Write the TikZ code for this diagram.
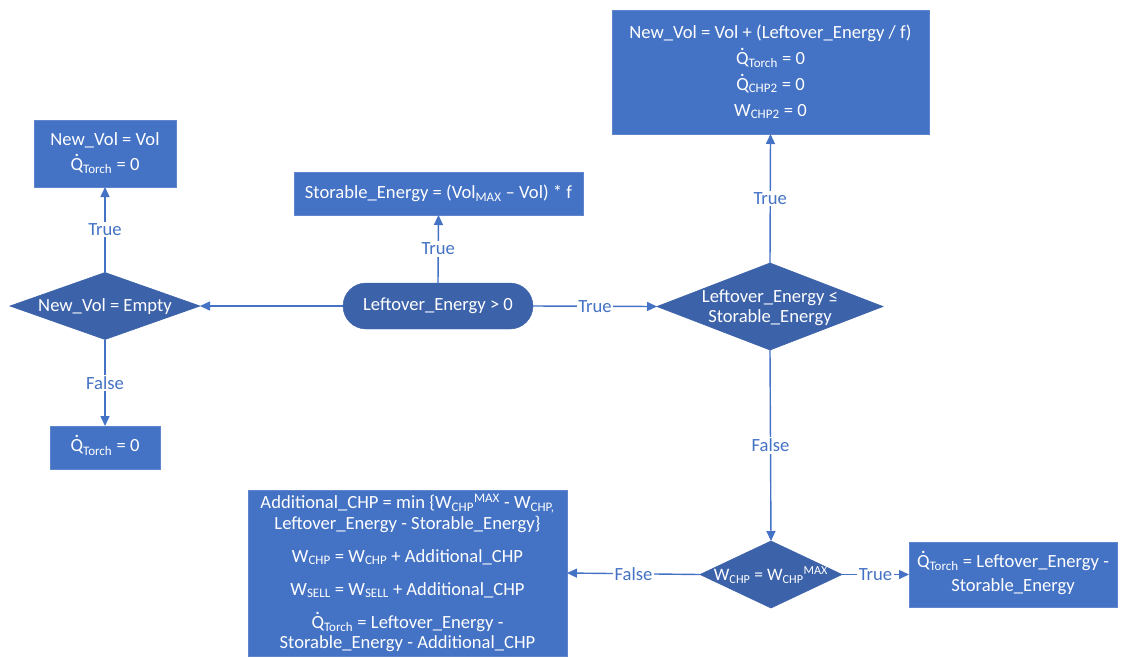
\documentclass[tikz,border=0pt]{standalone}
\usepackage{fontspec}
\setmainfont{Carlito}
\usetikzlibrary{shapes.geometric,arrows.meta}
\definecolor{boxblue}{HTML}{4472C4}
\definecolor{boxedge}{HTML}{5F86CC}
\definecolor{decblue}{HTML}{3C62AA}
\definecolor{edgeblue}{HTML}{4472C4}
% dotted Q (heat flow rate); the dot does not change the line height
\newcommand\Qd{\hbox{\ooalign{Q\cr\hidewidth\smash{\raisebox{0.76em}{\fontsize{20}{20}\selectfont.}}\hidewidth\cr}}}
\newcommand\sbs[1]{\textsubscript{#1}}
\newcommand\sps[1]{\textsuperscript{#1}}
% text set inside a diamond without enlarging it
\newcommand\dtext[1]{\smash{\makebox[0pt]{\raisebox{-0.32em}{#1}}}}
\begin{document}
\begin{tikzpicture}[x=1pt,y=-1pt,
  every node/.style={font=\fontsize{18.6}{25}\selectfont},
  box/.style={rectangle, fill=boxblue, draw=boxedge, line width=0.8pt, text=white,
    align=center, inner sep=0pt, outer sep=0pt},
  dec/.style={diamond, fill=decblue, draw=decblue, line width=0.6pt, text=white,
    inner sep=0pt, outer sep=0pt},
  term/.style={rectangle, rounded corners=23pt, fill=decblue, draw=decblue,
    text=white, inner sep=0pt, outer sep=0pt},
  conn/.style={draw=edgeblue, line width=1.4pt, -{Triangle[length=10pt,width=9pt]}},
  lbl/.style={fill=white, text=edgeblue, inner sep=1.5pt}]
\useasboundingbox (0,0) rectangle (1130,657);

% start
\node[term, minimum width=190pt, minimum height=46pt] (start) at (438,306)
  {Leftover\_Energy > 0};
\node[box, minimum width=289pt, minimum height=43pt] (store) at (438.5,193.5)
  {Storable\_Energy = (Vol\sbs{MAX} – Vol) * f};

% left branch
\node[dec, minimum width=190pt, minimum height=67pt] (empty) at (105,306)
  {\dtext{New\_Vol = Empty}};
\node[box, minimum width=142pt, minimum height=67pt] (keep) at (105,153.5)
  {New\_Vol = Vol\\ \Qd\sbs{Torch} = 0};
\node[box, minimum width=110pt, minimum height=43pt] (notorch) at (105,447.5)
  {\Qd\sbs{Torch} = 0};

% right branch
\node[dec, minimum width=226pt, minimum height=87pt] (fits) at (770,306.5)
  {\smash{\makebox[0pt]{\raisebox{-6pt}{\parbox[c]{260pt}{\centering
   \fontsize{18.6}{20}\selectfont Leftover\_Energy ≤\\ Storable\_Energy}}}}};
\node[box, minimum width=317pt, minimum height=124pt,
      font=\fontsize{18.6}{25.7}\selectfont] (fill) at (770.5,72)
  {New\_Vol = Vol + (Leftover\_Energy / f)\\
   \Qd\sbs{Torch} = 0\\ \Qd\sbs{CHP2} = 0\\ W\sbs{CHP2} = 0};
\node[dec, minimum width=142pt, minimum height=67pt] (chpmax) at (771,574.5)
  {\dtext{\fontsize{17.5}{20}\selectfont W\sbs{CHP} = W\sbs{CHP}\sps{MAX}}};
\node[box, minimum width=208pt, minimum height=65pt,
      font=\fontsize{18.6}{24}\selectfont] (torch) at (1013,574.5)
  {\Qd\sbs{Torch} = Leftover\_Energy -\\ Storable\_Energy};
\node[box, minimum width=319pt, minimum height=166pt,
      font=\fontsize{18.6}{20.5}\selectfont] (extra) at (407.5,573)
  {Additional\_CHP = min \{W\sbs{CHP}\sps{MAX} - W\sbs{CHP,}\\
   Leftover\_Energy - Storable\_Energy\}\\[12.5pt]
   W\sbs{CHP} = W\sbs{CHP} + Additional\_CHP\\[12.5pt]
   W\sbs{SELL} = W\sbs{SELL} + Additional\_CHP\\[12.5pt]
   \Qd\sbs{Torch} = Leftover\_Energy -\\
   Storable\_Energy - Additional\_CHP};

% connectors
\draw[conn] (start.west) -- (empty.east);
\draw[conn] (start.north) -- node[lbl] {True} (store.south);
\draw[conn] (start.east) -- node[lbl] {True} (fits.west);
\draw[conn] (empty.north) -- node[lbl] {True} (keep.south);
\draw[conn] (empty.south) -- node[lbl] {False} (notorch.north);
\draw[conn] (fits.north) -- node[lbl] {True} (fill.south);
\draw[conn] (fits.south) -- node[lbl] {False} (chpmax.north);
\draw[conn] (chpmax.west) -- node[lbl] {False} (extra.east);
\draw[conn] (chpmax.east) -- node[lbl] {True} (torch.west);
\end{tikzpicture}
\end{document}
